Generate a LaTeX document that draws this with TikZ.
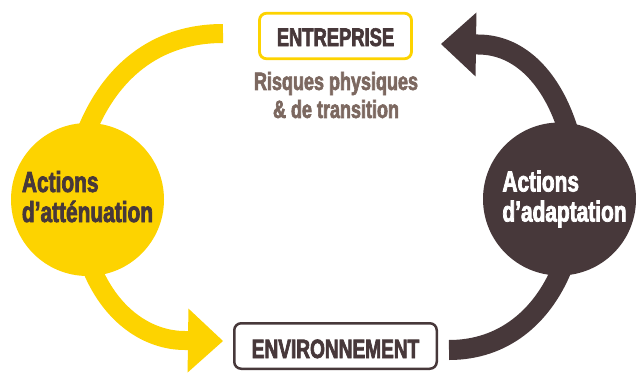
\documentclass[tikz,border=0pt]{standalone}
\usepackage{fontspec}
\newfontfamily\cond{Liberation Sans Bold}[FakeStretch=0.72,FakeBold=2.5]
\usetikzlibrary{arrows.meta,backgrounds}
\definecolor{ayellow}{HTML}{FDD300}
\definecolor{abrown}{HTML}{47383A}
\definecolor{agray}{HTML}{7C6860}
\begin{document}
\begin{tikzpicture}[x=1pt,y=-1pt,
  yflow/.style={draw=ayellow,line width=19pt},
  bflow/.style={draw=abrown,line width=20pt},
  bigtip/.style={-{Triangle[width=64pt,length=35pt,line width=0pt]}},
  bubble/.style={circle,inner sep=0pt,minimum size=153pt,align=left,
    font=\cond\fontsize{29}{30}\selectfont},
  label box/.style={rectangle,rounded corners=7pt,inner sep=0pt,text depth=0pt},
]
\useasboundingbox (0,0) rectangle (636,372);

% circles
\node[bubble,fill=ayellow,text=abrown] (ya) at (87.5,199.5)
  {Actions\\d’atténuation\rule[-6pt]{0pt}{6pt}};
\node[bubble,fill=abrown,text=white] (ba) at (559.5,199)
  {\hspace*{10pt}Actions\\\hspace*{10pt}d’adaptation};

% boxes
\node[label box,draw=ayellow,line width=2.8pt,minimum width=152pt,minimum height=45.5pt,
  text=abrown,font=\cond\fontsize{25.5}{26}\selectfont,text height=20pt] (ent) at (335.5,36) {ENTREPRISE};
\node[align=center,text=agray,font=\cond\fontsize{25}{28}\selectfont,inner sep=0pt] (risk) at (336,95)
  {Risques physiques\\\& de transition};
\node[label box,draw=abrown,line width=2.5pt,minimum width=202.5pt,minimum height=45.5pt,
  text=abrown,font=\cond\fontsize{26.5}{27}\selectfont,text height=24pt] (env) at (335.5,346) {ENVIRONNEMENT};

% free ends
\coordinate (e1) at (223,33.5);
\coordinate (t1) at (223,341);
\coordinate (s2) at (449,350);
\coordinate (t2) at (441,44);

% connectors, behind the circles
\begin{pgfonlayer}{background}
\path[yflow] ([yshift=-6pt]ya.north) .. controls (110,75) and (153,33.5) .. (e1);
\path[yflow,bigtip] ([xshift=5pt,yshift=6pt]ya.south) .. controls (112,316) and (148,340.5) .. (185,340.5) -- (t1);
\path[bflow] (s2) .. controls (504,350) and (542,316) .. ([xshift=2pt,yshift=6pt]ba.south);
\path[bflow,bigtip] ([xshift=8pt,yshift=-6pt]ba.north) .. controls (552,80) and (521,44.5) .. (478,44.5) -- (t2);
\end{pgfonlayer}
\end{tikzpicture}
\end{document}
